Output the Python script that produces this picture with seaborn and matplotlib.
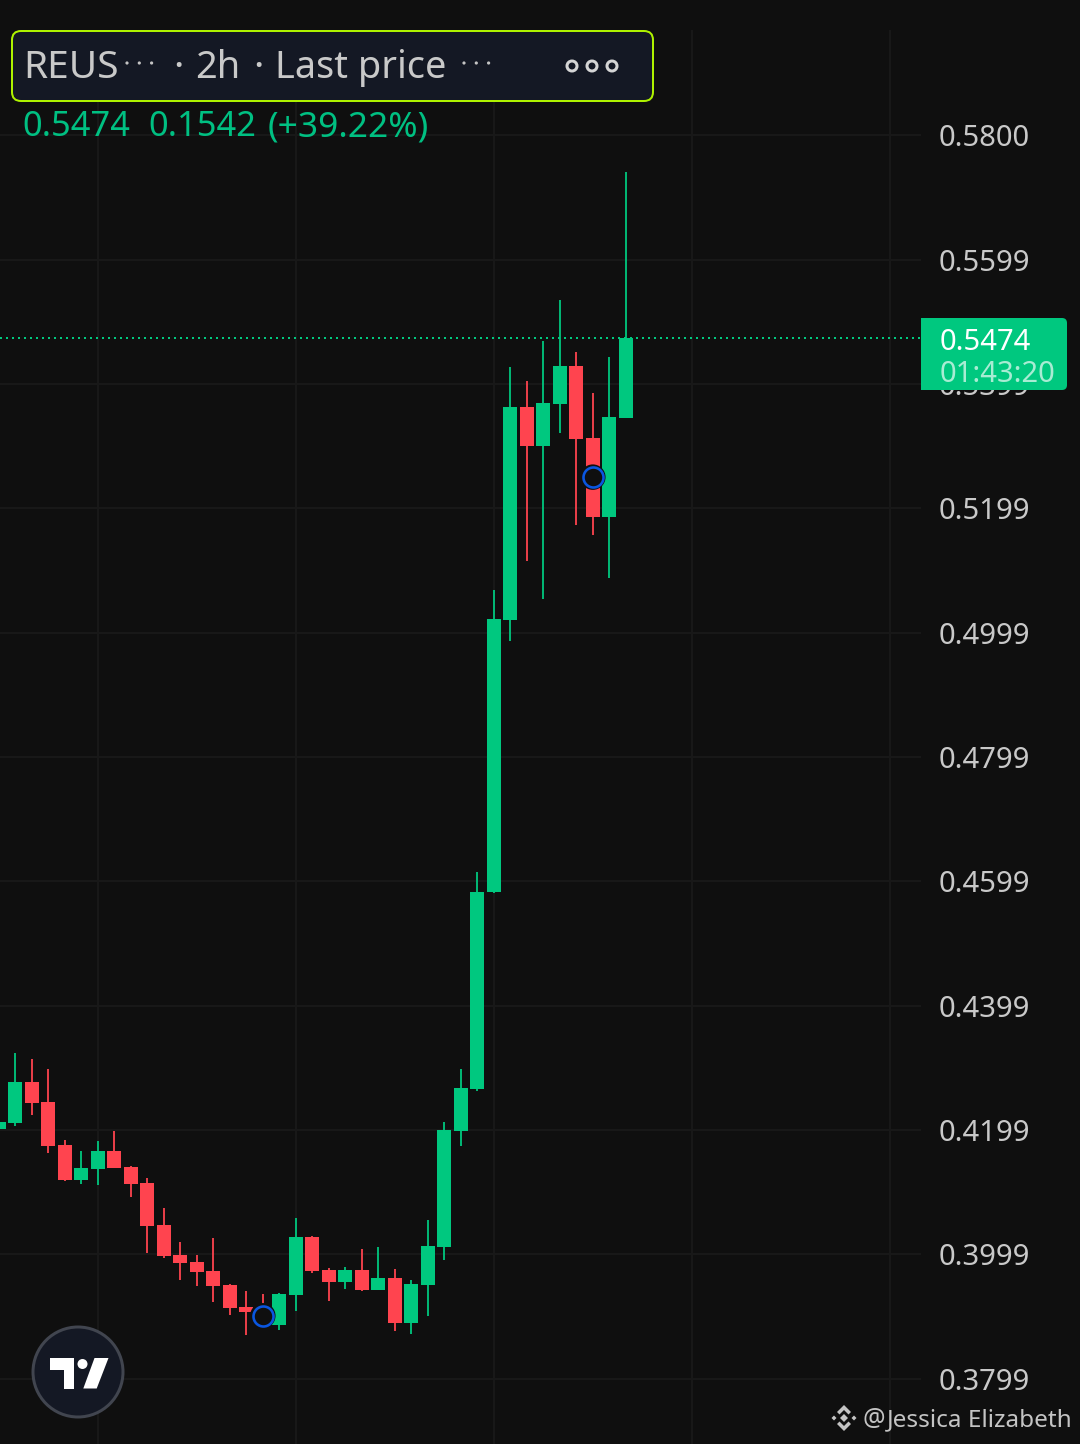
import matplotlib
matplotlib.use('Agg')
import matplotlib.pyplot as plt
from matplotlib.patches import Circle, FancyBboxPatch, Polygon, Rectangle
import pandas as pd
import seaborn as sns

# candles, 2h
opens = [.4201, .4210, .4276, .4244, .4175, .4119, .4136, .4165, .4140, .4114, .4046, .3998, .3987,
         .3972, .3950, .3914, .3906, .3885, .3933, .4027, .3974, .3954, .3974, .3942, .3961, .3888,
         .3950, .4011, .4197, .4265, .4582, .5020, .5363, .5300, .5368, .5429, .5313, .5186, .5345]
highs = [.4212, .4323, .4313, .4297, .4183, .4165, .4181, .4197, .4141, .4122, .4074, .4019, .3998,
         .4025, .3951, .3940, .3935, .3937, .4057, .4028, .3977, .3979, .4008, .4011, .3975, .3958,
         .4054, .4212, .4297, .4614, .5068, .5427, .5405, .5469, .5535, .5452, .5386, .5443, .5741]
lows = [.4201, .4206, .4223, .4162, .4117, .4112, .4111, .4138, .4091, .4001, .3993, .3958, .3948,
        .3922, .3901, .3869, .3885, .3877, .3908, .3969, .3924, .3943, .3940, .3942, .3876, .3871,
        .3900, .3990, .4173, .4262, .4581, .4986, .5115, .5054, .5321, .5173, .5157, .5088, .5345]
closes = [.4212, .4276, .4243, .4173, .4119, .4138, .4165, .4138, .4112, .4045, .3996, .3985, .3970,
          .3948, .3913, .3906, .3900, .3935, .4027, .3972, .3954, .3974, .3942, .3961, .3888, .3951,
          .4012, .4199, .4267, .4582, .5022, .5363, .5300, .5369, .5429, .5311, .5186, .5347, .5474]

# blue event circles
event_idx = [16, 36]
event_price = [.3900, .5250]

# price scale
tick_values = [.58000, .55999, .53998, .51997, .49996, .47995, .45994, .43993, .41992, .39991, .37990]
tick_labels = ['0.5800', '0.5599', '0.5399', '0.5199', '0.4999', '0.4799', '0.4599', '0.4399',
               '0.4199', '0.3999', '0.3799']
day_lines = [6, 18, 30, 42, 54]
last_price = 0.5474

BG = '#0f0f0f'
GRID = '#181818'
UP = '#00c87f'
DOWN = '#ff444f'
TEXT = '#c9c9c9'
PX = 72 / 100  # points per pixel at dpi 100

sns.set_theme(style='dark', rc={'figure.facecolor': BG, 'axes.facecolor': BG})
plt.rcParams['font.family'] = ['Noto Sans', 'DejaVu Sans']

wick_rows = []
for i, (h, l, o, c) in enumerate(zip(highs, lows, opens, closes)):
    side = 'up' if c >= o else 'down'
    wick_rows += [{'i': i, 'price': h, 'side': side}, {'i': i, 'price': l, 'side': side}]
wicks = pd.DataFrame(wick_rows)
candles = pd.DataFrame({'i': range(len(opens)), 'open': opens, 'close': closes})
candles['side'] = ['up' if c >= o else 'down' for o, c in zip(opens, closes)]
events = pd.DataFrame({'i': event_idx, 'price': event_price})
colors = {'up': UP, 'down': DOWN}

fig = plt.figure(figsize=(10.8, 14.44), dpi=100)
ax = fig.add_axes([0, 0, 921 / 1080, 1414 / 1444])
ax.set_xlim(0.0727, 55.89)
ax.set_ylim(0.36936, 0.59698)

ax.grid(True, color=GRID, lw=2 * PX)
ax.set_axisbelow(True)
for s in ax.spines.values():
    s.set_visible(False)

ax.axhline(last_price, color=UP, lw=2 * PX, ls=(0, (1, 2)), zorder=1.5)

sns.lineplot(data=wicks, x='i', y='price', units='i', hue='side', palette=colors, estimator=None,
             lw=1.8 * PX, solid_capstyle='butt', legend=False, ax=ax)
# bars for the bodies, a thick line at i=0 gets clipped away since its centre is off canvas
ax.bar(candles['i'], (candles['close'] - candles['open']).abs(), bottom=candles[['open', 'close']].min(axis=1),
       width=14 / 16.5, color=candles['side'].map(colors), linewidth=0, zorder=3)
sns.scatterplot(data=events, x='i', y='price', s=(25.5 * PX) ** 2, color=BG, edgecolor='none',
                legend=False, zorder=5, ax=ax)
sns.scatterplot(data=events, x='i', y='price', s=(20 * PX) ** 2, color=BG, edgecolor='#0a56e0',
                linewidth=2.6 * PX, legend=False, zorder=6, ax=ax)

ax.set_xlabel('')
ax.set_ylabel('')
ax.set_xticks(day_lines)
ax.set_xticklabels([])
ax.set_yticks(tick_values)
ax.set_yticklabels(tick_labels)
ax.tick_params(axis='y', left=False, right=False, labelleft=False, labelright=True,
               labelcolor=TEXT, labelsize=21, pad=6.5)
ax.tick_params(axis='x', length=0)

# overlay in pixel coordinates for the tradingview furniture
ov = fig.add_axes([0, 0, 1, 1], zorder=10)
ov.set_xlim(0, 1080)
ov.set_ylim(1444, 0)
ov.axis('off')
ov.patch.set_alpha(0)

# header box
ov.add_patch(FancyBboxPatch((20, 39), 625, 54, boxstyle='round,pad=8,rounding_size=9',
                            fc='#141824', ec='#aef200', lw=2 * PX))
head = dict(color=TEXT, va='baseline', ha='left')
ov.text(23.5, 78, 'REUS', fontsize=28, **head)
ov.text(178, 78, '·', ha='center', va='baseline', color=TEXT, fontsize=28)
ov.text(195.5, 78, '2h', fontsize=27.3, **head)
ov.text(258, 78, '·', ha='center', va='baseline', color=TEXT, fontsize=28)
ov.text(275, 78, 'Last price', fontsize=27.3, **head)
for x0 in [127, 464]:
    for k in range(3):
        ov.add_patch(Circle((x0 + k * 12.3, 63), 1.6, fc='#c4c4c4', ec='none'))
for x0 in [572, 592, 612]:
    ov.add_patch(Circle((x0, 66), 5, fc='none', ec='#d5d5d5', lw=3 * PX))

# values line
vals = dict(color='#00c082', va='baseline', ha='left')
ov.text(22, 136, '0.5474', fontsize=24.8, **vals)
ov.text(148, 136, '0.1542', fontsize=24.8, **vals)
ov.text(268, 136, '(+39.22%)', fontsize=25.4, **vals)

# last price tag
ov.add_patch(FancyBboxPatch((926, 323), 136, 62, boxstyle='round,pad=5,rounding_size=5',
                            fc=UP, ec='none'))
ov.add_patch(Rectangle((921, 318), 15, 72, fc=UP, ec='none'))
ov.text(940, 350, '0.5474', color='white', fontsize=21, va='baseline', ha='left')
ov.text(940, 382, '01:43:20', color='#a8ecd3', fontsize=21, va='baseline', ha='left')

# tv logo
ov.add_patch(Circle((78, 1372), 45, fc='#141824', ec='#41454f', lw=3 * PX))
ov.add_patch(Polygon([(50, 1358), (74, 1358), (74, 1388.5), (63.5, 1388.5), (63.5, 1370), (50, 1370)],
                     fc='white', ec='none'))
ov.add_patch(Circle((82.5, 1364), 5, fc='white', ec='none'))
ov.add_patch(Polygon([(94.5, 1358), (108.5, 1358), (96.7, 1388.5), (83.3, 1388.5)], fc='white', ec='none'))

# watermark
mark = '#c4c4c4'
ov.add_patch(Polygon([(844, 1414), (848, 1418), (844, 1422), (840, 1418)], fc=mark, ec='none'))
ov.add_patch(Polygon([(834, 1415.5), (836.5, 1418), (834, 1420.5), (831.5, 1418)], fc=mark, ec='none'))
ov.add_patch(Polygon([(854, 1415.5), (856.5, 1418), (854, 1420.5), (851.5, 1418)], fc=mark, ec='none'))
ov.add_patch(Polygon([(844, 1405), (851, 1412), (848.5, 1414.5), (844, 1410), (839.5, 1414.5), (837, 1412)],
                     fc=mark, ec='none'))
ov.add_patch(Polygon([(844, 1431), (851, 1424), (848.5, 1421.5), (844, 1426), (839.5, 1421.5), (837, 1424)],
                     fc=mark, ec='none'))
ov.text(863, 1426, '@', color=mark, fontsize=18, va='baseline', ha='left')
ov.text(887, 1426, 'Jessica Elizabeth', color=mark, fontsize=17.5, va='baseline', ha='left')

fig.savefig('out.png', dpi=100, facecolor=BG)
